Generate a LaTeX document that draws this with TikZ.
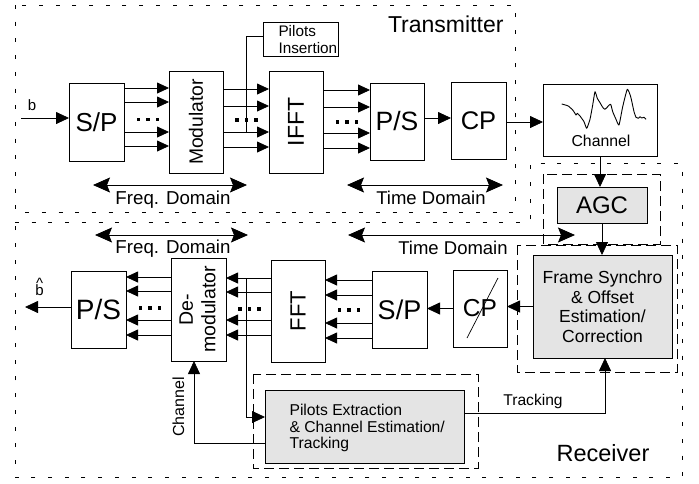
\documentclass[tikz,border=0pt]{standalone}
\usepackage{fontspec}
\setmainfont{Liberation Sans}
\usetikzlibrary{arrows.meta,calc}
\definecolor{boxgray}{HTML}{E4E4E4}

\begin{document}
\begin{tikzpicture}[x=1pt,y=-1pt,
  box/.style={draw, line width=0.9pt, inner sep=0pt, outer sep=0pt},
  gbox/.style={box, fill=boxgray},
  fs/.style={font=\fontsize{#1}{#1}\selectfont},
  plain/.style={line width=0.8pt},
  bus/.style={line width=0.8pt, -{Triangle[length=12pt,width=11pt]}},
  sig/.style={line width=0.8pt, -{Triangle[length=13pt,width=12pt]}},
  span/.style={line width=0.8pt,
    {Stealth[length=17pt,width=15pt,inset=3pt]}-{Stealth[length=17pt,width=15pt,inset=3pt]}},
  region/.style={line width=0.9pt, dash pattern=on 4pt off 12.7pt},
  group/.style={line width=0.9pt, dash pattern=on 10pt off 5pt},
  busdots/.pic={\foreach \dx in {-9.6,0,9.6}
    \fill ({\dx-1.75},-1.75) rectangle ({\dx+1.75},1.75);}
]
\useasboundingbox (0,0) rectangle (699,483);

% ---------- region outlines ----------
\draw[region] (15,5) rectangle (515,212);
\draw[region] (15,222) -- (530,222) -- (530,163) -- (682,163)
  -- (682,477) -- (15,477) -- cycle;
\node[fs=23, anchor=base east] (txlab) at (507,32) {Transmitter};
\node[fs=23.5, anchor=base] (rxlab) at (603,461) {Receiver};

% ---------- transmitter ----------
\node[box, minimum width=55pt, minimum height=78pt, fs=26] (spt) at (96.5,122) {S/P};
\node[box, minimum width=54pt, minimum height=102pt] (mod) at (196,122) {};
\node[fs=19.3, rotate=90] (modtxt) at (mod) {Modulator};
\node[box, minimum width=54pt, minimum height=102pt] (ifft) at (296,122) {};
\node[fs=23, rotate=90] (iffttxt) at (ifft) {IFFT};
\node[box, minimum width=54pt, minimum height=77pt, fs=26.5] (pst) at (397,121.5) {P/S};
\node[box, minimum width=55pt, minimum height=77pt, fs=25.5] (cpt) at (478.5,120.5) {CP};
\node[box, minimum width=114pt, minimum height=72pt] (chan) at (600,120) {};
\node[fs=15.8, anchor=base] (chantxt) at (601,146.5) {Channel};
\node[box, minimum width=75pt, minimum height=34pt] (pins) at (300.5,39) {};
\node[anchor=west, align=left, font=\fontsize{15.3}{17.7}\selectfont] (pinstxt)
  at (275,39.5) {Pilots\\Insertion};

% channel impulse response sketch
\draw[line width=0.9pt, line join=round] plot[smooth, tension=0.3] coordinates {
  (561.7,104) (568.3,106) (573.3,110.7) (576,115) (577.3,113.3) (580,116)
  (584,121.7) (586.7,128.3) (590,119.3) (592.7,105) (595,91.7) (597.3,98.3)
  (600,102.7) (602.7,107.3) (605,109.3) (608.3,106) (610.7,104.3) (612.7,111.7)
  (616,119.3) (619,125) (622.7,106.7) (627.3,89.3) (630.7,96.7) (634,111.7)
  (636,117.3) (638.3,118.3) (640,116.7) (641.7,118) (644,117.3) (646,119.3)};

% transmitter connectors
\coordinate (bin) at (21,118);
\draw[sig] (bin) -- (spt.west |- bin);
\node[fs=15] (blab) at (32,105) {b};
\foreach \y in {88,102,132,146} {
  \coordinate (t) at (0,\y);
  \draw[bus] (spt.east |- t) -- (mod.west |- t);
}
\foreach \y in {89,106,132,147} {
  \coordinate (t) at (0,\y);
  \draw[bus] (mod.east |- t) -- (ifft.west |- t);
}
\foreach \y in {90,107,133,148} {
  \coordinate (t) at (0,\y);
  \draw[bus] (ifft.east |- t) -- (pst.west |- t);
}
\coordinate (pk) at (246,36);
\coordinate (pj) at (246,132);
\draw[plain] (pins.west |- pk) -- (pk) -- (pj);
\coordinate (psy) at (0,118);
\draw[sig] (pst.east |- psy) -- (cpt.west |- psy);
\coordinate (cpy) at (0,122);
\draw[sig] (cpt.east |- cpy) -- (chan.west |- cpy);
\pic at (148,119.5) {busdots};
\pic at (246.5,120) {busdots};
\pic at (347,122) {busdots};

% transmitter domain spans
\coordinate (tfa) at (93,185);  \coordinate (tfb) at (247,185);
\coordinate (tta) at (347,185); \coordinate (ttb) at (503,185);
\draw[span] (tfa) -- (tfb);
\draw[span] (tta) -- (ttb);
\node[fs=18.7, anchor=base] (tftxt) at (173,204.5) {Freq. Domain};
\node[fs=18.5, anchor=base] (tttxt) at (431,204.5) {Time Domain};

% ---------- receiver ----------
\draw[group] (543,174) rectangle (660,244);
\draw[group] (517,245) rectangle (677,372);
\draw[group] (253,374) rectangle (478,468);

\node[gbox, minimum width=90pt, minimum height=36pt, fs=24] (agc) at (602,205) {AGC};
\node[gbox, minimum width=139pt, minimum height=103pt, align=center,
  font=\fontsize{17.5}{19.5}\selectfont] (frame) at (602.5,306.5)
  {Frame Synchro\\\& Offset\\Estimation/\\Correction};
\node[box, minimum width=54pt, minimum height=77pt, fs=24.5] (cpr) at (480,308.5) {CP};
\draw[line width=0.7pt] (467,338) -- (498,278);
\node[box, minimum width=55pt, minimum height=77pt, fs=27] (spr) at (399.5,309.5) {S/P};
\node[box, minimum width=54pt, minimum height=102pt] (fft) at (298,311) {};
\node[fs=22, rotate=90] (ffttxt) at (fft) {FFT};
\node[box, minimum width=55pt, minimum height=103pt] (dem) at (198.5,309.5) {};
\node[rotate=90, align=center, font=\fontsize{19.5}{22.6}\selectfont] (demtxt)
  at (197.5,309.5) {De-\\modulator};
\node[box, minimum width=55pt, minimum height=77pt, fs=28] (psr) at (98.5,309.5) {P/S};
\node[gbox, minimum width=199pt, minimum height=73pt] (pil) at (364.5,426.5) {};
\node[anchor=west, align=left, font=\fontsize{15.7}{16.7}\selectfont] (piltxt)
  at (286,428) {Pilots Extraction\\\& Channel Estimation/\\Tracking};

% receiver connectors
\draw[sig] (chan.south) -- (chan.south |- agc.north);
\draw[sig] (agc.south) -- (agc.south |- frame.north);
\draw[sig] (frame.west) -- (cpr.east |- frame.west);
\draw[sig] (cpr.west) -- (spr.east |- cpr.west);
\foreach \y in {280,295,323,338} {
  \coordinate (t) at (0,\y);
  \draw[bus] (spr.west |- t) -- (fft.east |- t);
}
\foreach \y in {278,292,320,335} {
  \coordinate (t) at (0,\y);
  \draw[bus] (fft.west |- t) -- (dem.east |- t);
}
\foreach \y in {277,291,320,335} {
  \coordinate (t) at (0,\y);
  \draw[bus] (dem.west |- t) -- (psr.east |- t);
}
\coordinate (bout) at (25,307);
\draw[sig] (psr.west |- bout) -- (bout);
% estimated bits: a caret set above the b
\node[fs=15, anchor=base, inner sep=0pt] (bhat) at (39.5,295)
  {\makebox[0pt][l]{\hspace{0.7pt}\raisebox{6.5pt}{\char"5E}}b};
\pic at (150,308) {busdots};
\pic at (249.5,309) {busdots};
\pic at (349,310) {busdots};

\coordinate (ptop) at (246,278);
\coordinate (pbend) at (246,417);
\draw[sig] (ptop) -- (pbend) -- (pil.west |- pbend);
\coordinate (cfb) at (194,443);
\draw[sig] (pil.west |- cfb) -- (cfb) -- (cfb |- dem.south);
\node[fs=16, rotate=90] (cfbtxt) at (178.5,407) {Channel};
\coordinate (trk) at (605,413);
\draw[sig] (pil.east |- trk) -- (trk) -- (trk |- frame.south);
\node[fs=15.6, anchor=base] (trktxt) at (533,405.5) {Tracking};

% receiver domain spans
\coordinate (rfa) at (95,235);  \coordinate (rfb) at (248,235);
\coordinate (rta) at (348,235); \coordinate (rtb) at (575,235);
\draw[span] (rfa) -- (rfb);
\draw[span] (rta) -- (rtb);
\node[fs=18.7, anchor=base] (rftxt) at (173,253.5) {Freq. Domain};
\node[fs=18.5, anchor=base] (rttxt) at (453,254) {Time Domain};
\end{tikzpicture}
\end{document}
